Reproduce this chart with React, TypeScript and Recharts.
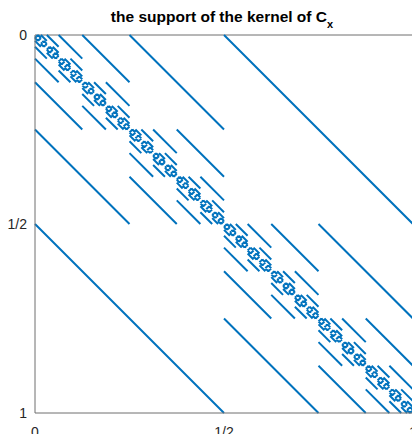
import React from "react";
import { Line, LineChart, ReferenceLine, XAxis, YAxis } from "recharts";

// dyadic levels j: every block of size 2^(1-j) on the diagonal carries two
// off-diagonal segments of length 2^-j (one above, one below the diagonal)
const LEVELS = [1, 2, 3, 4, 5, 6, 7, 8];
const TICKS = [0, 0.5, 1];
const TICK_LABELS = ["0", "1/2", "1"];
const TITLE = "the support of the kernel of C";
const TITLE_SUB = "x";

const BLUE = "#0072BD";
const AXIS = "#6e6e6e";
const TEXT = "#262626";
const FONT = "'Liberation Sans', Arial, Helvetica, sans-serif";

type Pt = { x: number; y: number | null };

// one path, broken by null points between the segments
function buildSupport(): Pt[] {
  const pts: Pt[] = [];
  for (const j of LEVELS) {
    const h = Math.pow(2, -j);
    const blocks = Math.pow(2, j - 1);
    for (let k = 0; k < blocks; k++) {
      const b = k * 2 * h;
      pts.push({ x: b + h, y: b }, { x: b + 2 * h, y: b + h }, { x: b + 2 * h, y: null });
      pts.push({ x: b, y: b + h }, { x: b + h, y: b + 2 * h }, { x: b + h, y: null });
    }
  }
  return pts;
}

const tickFmt = (v: number) => TICK_LABELS[TICKS.indexOf(v)] ?? String(v);

export default function App() {
  const data = buildSupport();
  const tickStyle = { fill: TEXT, fontSize: 14, fontFamily: FONT };

  return (
    <div
      style={{
        position: "absolute",
        left: 0,
        top: 0,
        width: 412,
        height: 434,
        overflow: "hidden",
        background: "#fff",
      }}
    >
      <svg width={412} height={34} style={{ position: "absolute", left: 0, top: 0 }}>
        <text
          x={222}
          y={22}
          textAnchor="middle"
          fontFamily={FONT}
          fontWeight="bold"
          fontSize={15.5}
          fill="#000"
        >
          {TITLE}
          <tspan fontSize={11} dy={6}>
            {TITLE_SUB}
          </tspan>
        </text>
      </svg>
      <LineChart width={413} height={434} data={data} margin={{ top: 35, right: 0, bottom: 0, left: 0 }}>
        <XAxis
          type="number"
          dataKey="x"
          domain={[0, 1]}
          ticks={TICKS}
          tickFormatter={tickFmt}
          height={21}
          tickSize={0}
          tickMargin={14}
          tickLine={false}
          axisLine={{ stroke: AXIS, strokeWidth: 1 }}
          tick={tickStyle}
          interval={0}
        />
        <YAxis
          type="number"
          reversed
          domain={[0, 1]}
          ticks={TICKS}
          tickFormatter={tickFmt}
          width={35}
          tickSize={0}
          tickMargin={8}
          tickLine={false}
          axisLine={{ stroke: AXIS, strokeWidth: 1 }}
          tick={tickStyle}
          interval={0}
        />
        <ReferenceLine y={0} stroke={AXIS} strokeWidth={1} />
        <ReferenceLine x={1} stroke={AXIS} strokeWidth={1} />
        <Line
          dataKey="y"
          stroke={BLUE}
          strokeWidth={2}
          dot={false}
          activeDot={false}
          connectNulls={false}
          isAnimationActive={false}
        />
      </LineChart>
    </div>
  );
}
